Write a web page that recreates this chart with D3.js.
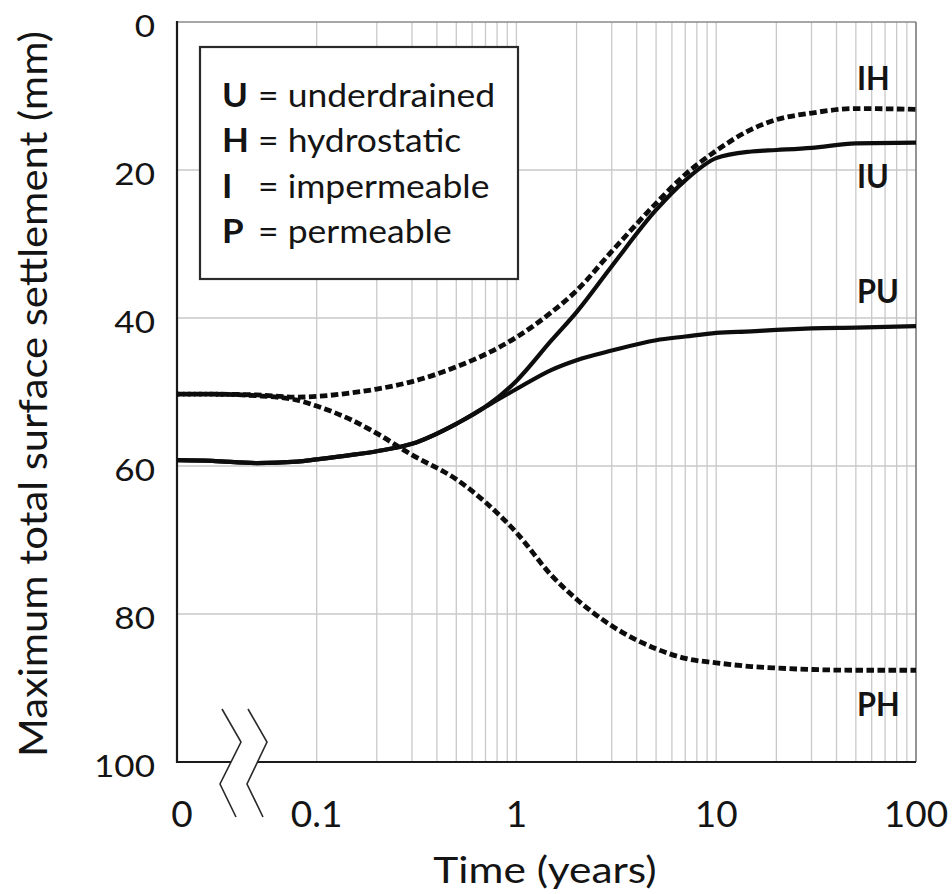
<!DOCTYPE html>
<html>
<head>
<meta charset="utf-8">
<script src="https://cdn.jsdelivr.net/npm/d3@7"></script>
<style>
  body { margin: 0; background: #fff; }
  text { font-family: Lato, "Open Sans", sans-serif; fill: #141414; }
</style>
</head>
<body>
<svg id="chart" width="952" height="894"></svg>
<script>
// Time (years); t = 0 sits at the origin of the broken axis
const timeYears = [0, 0.03, 0.05, 0.08, 0.1, 0.15, 0.2, 0.3, 0.5, 0.7, 1, 1.5, 2, 3, 5, 7, 10, 15, 20, 30, 50, 100];

// Maximum total surface settlement (mm) for each case
const settlementIH = [50.3, 50.3, 50.4, 50.7, 50.6, 50.1, 49.6, 48.6, 46.6, 44.9, 42.6, 39.2, 36.3, 31.0, 24.5, 20.6, 17.4, 14.5, 13.2, 12.3, 11.7, 11.8];
const settlementPH = [50.3, 50.3, 50.5, 51.1, 51.9, 53.8, 55.6, 58.5, 61.8, 64.9, 69.0, 74.8, 78.0, 81.6, 84.7, 86.0, 86.6, 87.1, 87.3, 87.5, 87.6, 87.6];
const settlementIU = [59.2, 59.3, 59.6, 59.4, 59.1, 58.5, 58.0, 57.0, 54.3, 52.0, 48.5, 43.0, 39.2, 33.0, 25.4, 21.4, 18.4, 17.5, 17.3, 17.0, 16.4, 16.3];
const settlementPU = [59.2, 59.3, 59.6, 59.4, 59.1, 58.5, 58.0, 57.0, 54.3, 52.0, 49.6, 47.0, 45.7, 44.4, 43.0, 42.5, 42.0, 41.8, 41.6, 41.4, 41.3, 41.1];

const seriesNames = ["IH", "PH", "IU", "PU"];
const seriesDashed = [true, true, false, false];

const xTickTimes = [0, 0.1, 1, 10, 100];
const xTickLabels = ["0", "0.1", "1", "10", "100"];
const yTickValues = [0, 20, 40, 60, 80, 100];

const legendKeys = ["U", "H", "I", "P"];
const legendTexts = ["= underdrained", "= hydrostatic", "= impermeable", "= permeable"];

const svg = d3.select("#chart");

// widen text horizontally by factor k (keeps the glyph height)
function widen(sel, k) {
  sel.each(function () {
    const w = this.getComputedTextLength();
    d3.select(this).attr("textLength", w * k).attr("lengthAdjust", "spacingAndGlyphs");
  });
  return sel;
}

const plotLeft = 177, plotRight = 916, plotTop = 22, plotBottom = 762;
const xLog = d3.scaleLog().domain([0.02, 100]).range([plotLeft, plotRight]);
const xPos = t => xLog(Math.max(t, 0.02));
const y = d3.scaleLinear().domain([0, 100]).range([plotTop, plotBottom]);

// grid: horizontal
svg.append("g").selectAll("line")
  .data(yTickValues.filter(v => v > 0 && v < 100))
  .join("line")
  .attr("x1", plotLeft).attr("x2", plotRight)
  .attr("y1", d => y(d)).attr("y2", d => y(d))
  .attr("stroke", "#c9c9c9").attr("stroke-width", 1.3);

// grid: vertical log lines from 0.1 upwards (none inside the axis break)
svg.append("g").selectAll("line")
  .data(xLog.ticks().filter(t => t >= 0.1 - 1e-9 && t < 100 - 1e-9))
  .join("line")
  .attr("x1", d => xLog(d)).attr("x2", d => xLog(d))
  .attr("y1", plotTop).attr("y2", plotBottom)
  .attr("stroke", "#c9c9c9").attr("stroke-width", 1.3);

// frame: grey top/right, black left/bottom
svg.append("line").attr("x1", plotLeft).attr("x2", plotRight).attr("y1", plotTop).attr("y2", plotTop)
  .attr("stroke", "#8a8a8a").attr("stroke-width", 1.6);
svg.append("line").attr("x1", plotRight).attr("x2", plotRight).attr("y1", plotTop).attr("y2", plotBottom)
  .attr("stroke", "#7a7a7a").attr("stroke-width", 1.6);
svg.append("line").attr("x1", plotLeft).attr("x2", plotLeft).attr("y1", plotTop - 1).attr("y2", plotBottom + 1)
  .attr("stroke", "#1a1a1a").attr("stroke-width", 2.2);
svg.append("line").attr("x1", plotLeft - 1).attr("x2", plotRight).attr("y1", plotBottom).attr("y2", plotBottom)
  .attr("stroke", "#1a1a1a").attr("stroke-width", 2.2);

// legend box
const legend = svg.append("g");
legend.append("rect").attr("x", 200).attr("y", 47).attr("width", 318).attr("height", 232)
  .attr("fill", "#fff").attr("stroke", "#2a2a2a").attr("stroke-width", 2.2);
legendKeys.forEach((k, i) => {
  const by = 107 + i * 45.3;
  widen(legend.append("text").attr("x", 222).attr("y", by)
    .attr("font-size", 33).attr("font-weight", 700).text(k), 1.06);
  widen(legend.append("text").attr("x", 258).attr("y", by)
    .attr("font-size", 33).text(legendTexts[i]), 1.075);
});

// curves
const seriesValues = [settlementIH, settlementPH, settlementIU, settlementPU];
const line = d3.line()
  .x(d => xPos(d[0]))
  .y(d => y(d[1]))
  .curve(d3.curveMonotoneX);

seriesValues.forEach((vals, i) => {
  const pts = timeYears.map((t, j) => [t, vals[j]]);
  svg.append("path")
    .attr("d", line(pts))
    .attr("fill", "none")
    .attr("stroke", "#0d0d0d")
    .attr("stroke-width", seriesDashed[i] ? 4.8 : 4.2)
    .attr("stroke-dasharray", seriesDashed[i] ? "7.5,3.5" : null)
    .attr("stroke-dashoffset", i === 1 ? 5 : 0)
    .attr("stroke-linejoin", "round");
});

// axis break symbol on the time axis
const zigA = [[222, 709], [241, 742], [220, 784], [236, 817]];
const zigB = [[248, 709], [267, 742], [247, 784], [263, 817]];
svg.append("polygon")
  .attr("points", zigA.concat(zigB.slice().reverse()).map(p => p.join(",")).join(" "))
  .attr("fill", "#fff");
[zigA, zigB].forEach(z => {
  svg.append("polyline").attr("points", z.map(p => p.join(",")).join(" "))
    .attr("fill", "none").attr("stroke", "#2a2a2a").attr("stroke-width", 1.6);
});

// series labels
const seriesLabelY = [90, 716, 188, 303];
seriesNames.forEach((n, i) => {
  widen(svg.append("text").attr("x", 857).attr("y", seriesLabelY[i])
    .attr("font-size", 32).attr("font-weight", 700).text(n), 0.96);
});

// y tick labels
widen(svg.append("g").selectAll("text")
  .data(yTickValues)
  .join("text")
  .attr("x", 155).attr("y", d => y(d) + 15)
  .attr("text-anchor", "end").attr("font-size", 31)
  .text(d => d), 1.13);

// x tick labels
svg.append("g").selectAll("text")
  .data(xTickTimes)
  .join("text")
  .attr("x", d => xPos(d) + (d === 0 ? 5 : 0)).attr("y", 827)
  .attr("text-anchor", "middle").attr("font-size", 37)
  .text((d, i) => xTickLabels[i]);

// axis titles
widen(svg.append("text").attr("x", 545).attr("y", 883)
  .attr("text-anchor", "middle").attr("font-size", 36)
  .text("Time (years)"), 1.18);
widen(svg.append("text")
  .attr("transform", "translate(47,394) rotate(-90)")
  .attr("text-anchor", "middle").attr("font-size", 39)
  .text("Maximum total surface settlement (mm)"), 1.07);
</script>
</body>
</html>
